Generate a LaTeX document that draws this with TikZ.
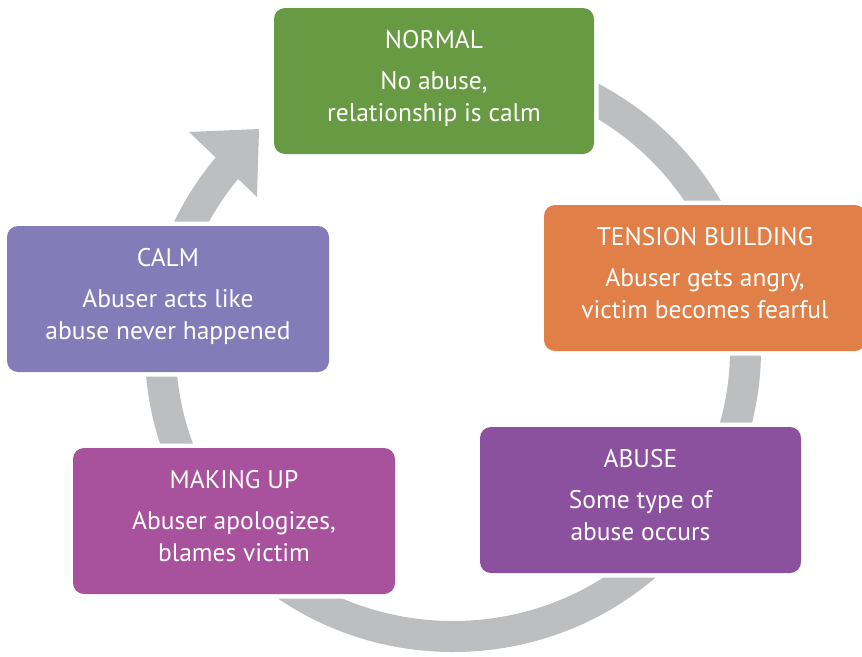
\documentclass[tikz,border=0pt]{standalone}
\usepackage{fontspec}
\setmainfont{PT Sans}
\definecolor{cgreen}{HTML}{689A43}
\definecolor{corange}{HTML}{E07F48}
\definecolor{cpurple}{HTML}{8C519E}
\definecolor{cmagenta}{HTML}{A8529D}
\definecolor{clavender}{HTML}{837CB9}
\definecolor{cring}{HTML}{BDBEC0}
\tikzset{
  stagegap/.style={draw=white, fill=white, line width=9pt, rounded corners=11pt},
  stagebox/.style={rounded corners=11pt},
  ttl/.style={anchor=base, text=white, inner sep=0pt, font=\fontsize{25.5}{25.5}\selectfont},
  dsc/.style={anchor=base, text=white, inner sep=0pt, font=\fontsize{25.5}{25.5}\selectfont},
  ring/.style={draw=cring, line width=31pt}
}
\newcommand{\stage}[8]{%
  % #1 name, #2 colour, #3 left, #4 right, #5 top, #6 title, #7 line1, #8 line2
  \path[stagegap] (#3,-#5) rectangle (#4,-#5-146);
  \path[stagebox, fill=#2] (#3,-#5) rectangle (#4,-#5-146);
  \node[ttl] (#1-t) at ({(#3+#4)/2},-#5-40) {#6};
  \node[dsc] (#1-a) at ({(#3+#4)/2},-#5-81) {#7};
  \node[dsc] (#1-b) at ({(#3+#4)/2},-#5-113) {#8};
}
\begin{document}
\begin{tikzpicture}[x=1pt,y=1pt]
\useasboundingbox[fill=white] (0,0) rectangle (862,-656);
\coordinate (c) at (453,-350);
% ring with arrow
\draw[ring] (c) ++(90:292.5 and 286.5) arc[start angle=90, end angle=-220, x radius=292.5, y radius=286.5];
\coordinate (h1) at (189,-132);
\coordinate (h2) at (259,-129);
\coordinate (h3) at (257,-197);
\fill[cring] (h1) -- (h2) -- (h3) -- cycle;
% boxes
\stage{normal}{cgreen}{274}{594}{8}{NORMAL}{No abuse,}{relationship is calm}
\stage{tension}{corange}{544}{866}{205}{TENSION BUILDING}{Abuser gets angry,}{victim becomes fearful}
\stage{abuse}{cpurple}{480}{801}{427}{ABUSE}{Some type of}{abuse occurs}
\stage{makingup}{cmagenta}{73}{395}{448}{MAKING UP}{Abuser apologizes,}{blames victim}
\stage{calm}{clavender}{7}{329}{226}{CALM}{Abuser acts like}{abuse never happened}
\end{tikzpicture}
\end{document}
